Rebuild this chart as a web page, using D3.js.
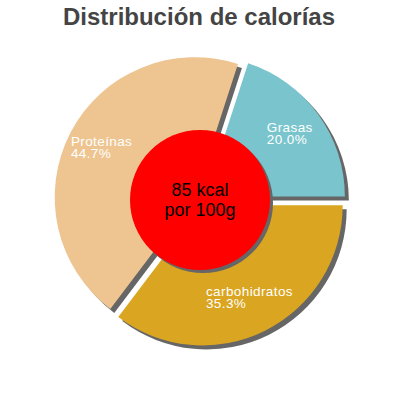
<!DOCTYPE html>
<html>
<head>
<meta charset="utf-8">
<script src="https://cdn.jsdelivr.net/npm/d3@7"></script>
<style>
  body { margin: 0; background: #fff; }
  svg { display: block; font-family: "Liberation Sans", Arial, sans-serif; }
</style>
</head>
<body>
<div id="chart"></div>
<script>
const title = 'Distribución de calorías';
const categories = ['Grasas', 'carbohidratos', 'Proteínas'];
const values = [20.0, 35.3, 44.7];
const centerLines = ['85 kcal', 'por 100g'];

const width = 400;
const height = 400;
const cx = 200, cy = 200;
const radius = 140;
const explode = 6;
const shadow = 4;

const color = d3
  .scaleOrdinal()
  .domain(categories)
  .range(['#7AC5CD', '#DAA520', '#EEC591']);

const svg = d3
  .select('#chart')
  .append('svg')
  .attr('width', width)
  .attr('height', height);

svg
  .append('text')
  .attr('x', 199)
  .attr('y', 25)
  .attr('text-anchor', 'middle')
  .attr('font-size', 24)
  .attr('font-weight', 'bold')
  .attr('fill', '#444')
  .text(title);

// first slice ends at 3 o'clock
const total = d3.sum(values);
const start = Math.PI / 2 - (values[0] / total) * 2 * Math.PI;

const pie = d3
  .pie()
  .sort(null)
  .startAngle(start)
  .endAngle(start + 2 * Math.PI);

const arcs = pie(values).map((d, i) => ({ ...d, name: categories[i] }));

const arc = d3.arc().innerRadius(0).outerRadius(radius);
const labelArc = d3.arc().innerRadius(radius * 0.75).outerRadius(radius * 0.75);

function offset(d) {
  const a = (d.startAngle + d.endAngle) / 2;
  return [Math.sin(a) * explode, -Math.cos(a) * explode];
}

const g = svg.append('g').attr('transform', `translate(${cx},${cy})`);

g.append('g')
  .selectAll('path')
  .data(arcs)
  .enter()
  .append('path')
  .attr('d', arc)
  .attr('fill', '#666')
  .attr('transform', d => {
    const [x, y] = offset(d);
    return `translate(${x + shadow},${y + shadow})`;
  });

g.append('g')
  .selectAll('path')
  .data(arcs)
  .enter()
  .append('path')
  .attr('d', arc)
  .attr('fill', d => color(d.name))
  .attr('transform', d => {
    const [x, y] = offset(d);
    return `translate(${x},${y})`;
  });

const labels = g
  .append('g')
  .selectAll('text')
  .data(arcs)
  .enter()
  .append('text')
  .attr('fill', '#fff')
  .attr('font-size', 13.5)
  .attr('letter-spacing', 0.4);

labels.each(function (d) {
  const t = d3.select(this);
  const [ox, oy] = offset(d);
  const [lx, ly] = labelArc.centroid(d);
  t.append('tspan').text(d.name);
  t.append('tspan').text(((d.value / total) * 100).toFixed(1) + '%');
  const spans = t.selectAll('tspan').attr('x', 0).attr('y', (_, j) => j * 12);
  const w = this.getBBox().width;
  spans
    .attr('x', lx + ox - w / 2)
    .attr('y', (_, j) => ly + oy - 3 + j * 12);
});

g.append('circle')
  .attr('cx', 3)
  .attr('cy', 3)
  .attr('r', 70)
  .attr('fill', '#666');

g.append('circle')
  .attr('r', 70)
  .attr('fill', '#FF0000');

g.append('text')
  .attr('text-anchor', 'middle')
  .attr('font-size', 18)
  .attr('fill', '#000')
  .selectAll('tspan')
  .data(centerLines)
  .enter()
  .append('tspan')
  .attr('x', 0)
  .attr('y', (d, i) => -4 + i * 19.5)
  .text(d => d);
</script>
</body>
</html>
